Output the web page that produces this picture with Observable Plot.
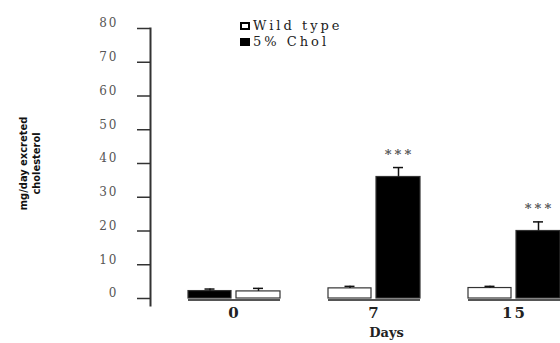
<!DOCTYPE html>
<html><head><meta charset="utf-8">
<script src="https://cdn.jsdelivr.net/npm/d3@7"></script>
<script src="https://cdn.jsdelivr.net/npm/@observablehq/plot@0.6"></script>
<style>
body{margin:0;background:#fff}
#wrap{position:relative;width:560px;height:343px;overflow:hidden;background:#fff}
#wrap svg g[aria-label="y-axis tick label"] text{letter-spacing:2px}
#wrap svg g[aria-label="x-axis tick label"] text{letter-spacing:2px}
#wrap svg g.sig text{letter-spacing:3px}
#legend{position:absolute;left:240px;top:18px;font:13px "DejaVu Serif",serif;letter-spacing:3px;color:#222;line-height:16px}
#legend .row{display:flex;align-items:center;height:16px}
#legend .sw{width:6px;height:4px;border:2px solid #000;margin-right:3px;flex:none}
</style></head><body><div id="wrap"></div>
<script>
const days = ["0", "7", "15"];
const seriesNames = ["Wild type", "5% Chol"];
const wildValues = [2.1, 3.0, 3.1];
const wildErrors = [0.9, 0.6, 0.5];
const cholValues = [2.2, 36.0, 20.0];
const cholErrors = [0.6, 2.8, 2.7];
const leftSeries = ["5% Chol", "Wild type", "Wild type"];
const significance = ["", "***", "***"];
const yTicks = [0, 10, 20, 30, 40, 50, 60, 70, 80];
const yLabel = "mg/day excreted\ncholesterol";
const xLabel = "Days";
const seriesColors = ["#fff", "#000"];

const rows = days.flatMap((day, i) => [
  {day, series: "Wild type", value: wildValues[i], err: wildErrors[i], sig: "", slot: leftSeries[i] === "Wild type" ? "left" : "right"},
  {day, series: "5% Chol", value: cholValues[i], err: cholErrors[i], sig: significance[i], slot: leftSeries[i] === "5% Chol" ? "left" : "right"}
]);
const leftRows = rows.filter(d => d.slot === "left");
const rightRows = rows.filter(d => d.slot === "right");
const errTop = d => d.value + d.err;

const chart = Plot.plot({
  width: 560,
  height: 343,
  marginTop: 28,
  marginBottom: 45,
  marginLeft: 150,
  marginRight: 0,
  style: {fontFamily: "DejaVu Serif, serif", background: "#fff"},
  x: {domain: days, range: [188, 560], paddingInner: 0.343, paddingOuter: 0, label: null},
  y: {domain: [0, 80], label: null},
  color: {domain: seriesNames, range: seriesColors},
  marks: [
    Plot.ruleY(days, {x1: d => d, x2: d => d, y: 0, dy: 1.5, stroke: "#555", strokeWidth: 2}),
    Plot.barY(leftRows, {x: "day", y: "value", fill: "series", stroke: "#333", strokeWidth: 1.2, insetRight: 49}),
    Plot.barY(rightRows, {x: "day", y: "value", fill: "series", stroke: "#333", strokeWidth: 1.2, insetLeft: 48}),
    Plot.ruleX(leftRows, {x: "day", y1: "value", y2: errTop, dx: -24.5, stroke: "#111", strokeWidth: 1.5}),
    Plot.ruleX(rightRows, {x: "day", y1: "value", y2: errTop, dx: 24, stroke: "#111", strokeWidth: 1.5}),
    Plot.tickY(leftRows, {x: "day", y: errTop, insetLeft: 16.5, insetRight: 65.5, stroke: "#111", strokeWidth: 1.5}),
    Plot.tickY(rightRows, {x: "day", y: errTop, insetLeft: 65, insetRight: 17, stroke: "#111", strokeWidth: 1.5}),
    Plot.text(rows.filter(d => d.sig), {x: "day", y: errTop, text: "sig", dx: 25, dy: -13, fontSize: 13, fontWeight: "bold", fill: "#555", className: "sig"}),
    Plot.axisY({ticks: yTicks, tickSize: 13, fill: "none", stroke: "#333", strokeWidth: 1.5, label: null}),
    Plot.axisY({ticks: yTicks, tickSize: 0, tickPadding: 32, dy: -5, fontSize: 12, fill: "#555", label: null}),
    Plot.frame({anchor: "left", insetBottom: -7, stroke: "#333", strokeWidth: 2}),
    Plot.axisX({tickSize: 0, tickPadding: 9, fontSize: 15, fontWeight: "bold", fill: "#222", label: null}),
    Plot.text([yLabel], {text: d => d, frameAnchor: "left", textAnchor: "middle", rotate: -90, dx: -121, fontFamily: "DejaVu Sans Condensed, Liberation Sans Narrow, Liberation Sans, sans-serif", fontWeight: "bold", fontSize: 11, lineHeight: 1.15, fill: "#111"}),
    Plot.text([xLabel], {text: d => d, frameAnchor: "bottom", dx: 31, dy: 38, fontSize: 13, fontWeight: "bold", fill: "#222"})
  ]
});

const wrap = document.getElementById("wrap");
wrap.appendChild(chart);
const legend = document.createElement("div");
legend.id = "legend";
seriesNames.forEach((name, i) => {
  const row = document.createElement("div");
  row.className = "row";
  const sw = document.createElement("span");
  sw.className = "sw";
  sw.style.background = seriesColors[i];
  const t = document.createElement("span");
  t.textContent = name;
  row.appendChild(sw);
  row.appendChild(t);
  legend.appendChild(row);
});
wrap.appendChild(legend);
</script>
</body></html>
